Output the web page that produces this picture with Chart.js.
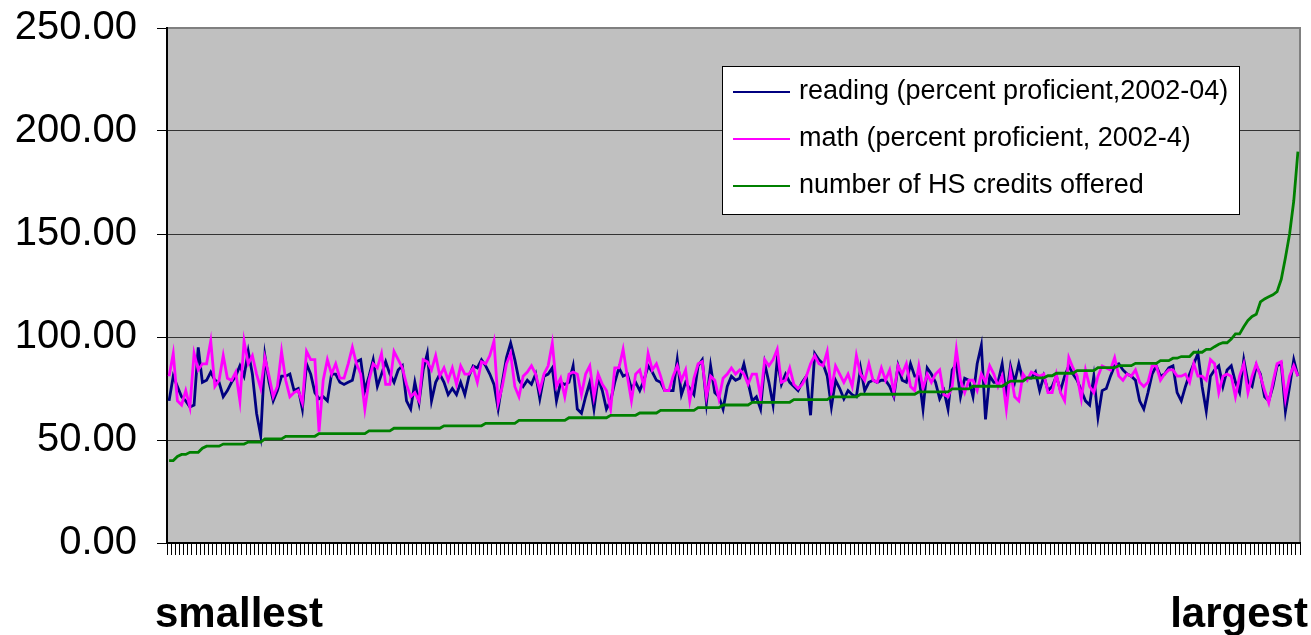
<!DOCTYPE html>
<html>
<head>
<meta charset="utf-8">
<script src="https://cdn.jsdelivr.net/npm/chart.js@4/dist/chart.umd.min.js"></script>
<style>
  body { margin: 0; background: #fff; }
  canvas { display: block; }
</style>
</head>
<body>
<canvas id="grafico" width="1311" height="635"></canvas>
<script>
// districts ranked from smallest to largest
const categories = Array.from({ length: 272 }, (_, i) => String(i + 1));

const seriesLabels = [
  "reading (percent proficient,2002-04)",
  "math (percent proficient, 2002-4)",
  "number of HS credits offered"
];

const reading = [
  69, 81, 76, 71, 69, 66, 67, 95, 78, 79,
  83, 79, 78, 71, 74, 78, 81, 86, 81, 93,
  82, 63, 52, 91, 78, 69, 74, 81, 81, 82,
  74, 75, 65, 87, 82, 73, 70, 71, 69, 82,
  82, 78, 77, 78, 79, 88, 89, 74, 81, 89,
  76, 82, 88, 82, 78, 84, 86, 69, 65, 78,
  68, 84, 92, 69, 78, 82, 78, 72, 75, 72,
  78, 72, 81, 86, 85, 89, 86, 82, 77, 65,
  78, 90, 97, 89, 79, 76, 79, 77, 82, 70,
  81, 82, 85, 69, 78, 77, 78, 86, 65, 63,
  71, 78, 65, 80, 74, 65, 69, 78, 85, 81,
  82, 75, 78, 74, 79, 86, 83, 79, 78, 74,
  74, 74, 89, 72, 78, 75, 72, 86, 89, 68,
  86, 73, 71, 65, 76, 81, 79, 80, 87, 78,
  69, 71, 65, 87, 78, 67, 89, 77, 82, 78,
  76, 74, 78, 81, 62, 92, 89, 87, 81, 66,
  79, 75, 70, 74, 72, 71, 85, 74, 78, 79,
  78, 79, 79, 76, 71, 86, 79, 78, 87, 81,
  81, 65, 85, 82, 78, 70, 74, 65, 84, 87,
  71, 80, 79, 71, 87, 96, 60, 81, 78, 78,
  87, 71, 86, 78, 87, 79, 80, 80, 83, 74,
  81, 74, 76, 81, 74, 81, 86, 82, 79, 74,
  69, 67, 81, 61, 74, 75, 81, 86, 87, 84,
  82, 81, 79, 69, 65, 73, 82, 86, 81, 82,
  85, 86, 73, 69, 76, 82, 87, 92, 76, 64,
  81, 84, 86, 76, 84, 86, 78, 73, 89, 78,
  76, 86, 82, 71, 69, 76, 86, 87, 64, 76,
  89, 81
];

const math = [
  81, 92, 69, 67, 74, 66, 92, 84, 87, 87,
  98, 76, 79, 91, 80, 79, 83, 69, 98, 87,
  91, 82, 75, 90, 81, 71, 76, 93, 79, 71,
  73, 74, 68, 93, 89, 89, 54, 79, 89, 82,
  87, 80, 80, 87, 95, 87, 82, 65, 79, 87,
  85, 92, 77, 77, 93, 89, 85, 77, 71, 73,
  69, 89, 88, 84, 91, 81, 85, 79, 85, 77,
  86, 82, 82, 85, 78, 88, 87, 91, 98, 68,
  76, 87, 92, 76, 71, 81, 83, 86, 82, 74,
  82, 86, 97, 76, 80, 71, 82, 83, 82, 72,
  82, 86, 71, 82, 77, 74, 65, 85, 85, 94,
  81, 69, 82, 84, 76, 92, 84, 87, 81, 74,
  74, 81, 86, 79, 84, 69, 80, 87, 88, 71,
  81, 79, 70, 80, 82, 85, 82, 84, 82, 77,
  82, 82, 71, 89, 86, 89, 94, 78, 79, 85,
  77, 75, 77, 81, 87, 91, 87, 86, 93, 74,
  86, 82, 78, 82, 76, 91, 82, 79, 87, 79,
  78, 85, 79, 84, 73, 86, 82, 87, 76, 74,
  86, 75, 82, 78, 82, 84, 72, 71, 76, 94,
  79, 73, 79, 79, 74, 82, 78, 86, 82, 76,
  81, 65, 83, 71, 69, 82, 79, 83, 82, 81,
  82, 73, 73, 82, 73, 69, 90, 85, 81, 70,
  84, 76, 73, 81, 86, 85, 84, 90, 81, 79,
  82, 81, 84, 78, 76, 78, 86, 86, 79, 82,
  84, 84, 81, 81, 82, 78, 87, 81, 81, 79,
  89, 87, 73, 81, 82, 81, 71, 81, 87, 73,
  81, 87, 81, 74, 68, 78, 87, 88, 70, 81,
  86, 81
];

const credits = [
  40, 40, 42, 43, 43, 44, 44, 44, 46, 47,
  47, 47, 47, 48, 48, 48, 48, 48, 48, 49,
  49, 49, 49, 50.5, 50.5, 50.5, 50.5, 50.5, 51.8, 51.8,
  51.8, 51.8, 51.8, 51.8, 51.8, 51.8, 53.1, 53.1, 53.1, 53.1,
  53.1, 53.1, 53.1, 53.1, 53.1, 53.1, 53.1, 53.1, 54.4, 54.4,
  54.4, 54.4, 54.4, 54.4, 55.7, 55.7, 55.7, 55.7, 55.7, 55.7,
  55.7, 55.7, 55.7, 55.7, 55.7, 55.7, 56.9, 56.9, 56.9, 56.9,
  56.9, 56.9, 56.9, 56.9, 56.9, 56.9, 58.1, 58.1, 58.1, 58.1,
  58.1, 58.1, 58.1, 58.1, 59.5, 59.5, 59.5, 59.5, 59.5, 59.5,
  59.5, 59.5, 59.5, 59.5, 59.5, 59.5, 60.8, 60.8, 60.8, 60.8,
  60.8, 60.8, 60.8, 60.8, 60.8, 60.8, 62, 62, 62, 62,
  62, 62, 62, 63.1, 63.1, 63.1, 63.1, 63.1, 64.4, 64.4,
  64.4, 64.4, 64.4, 64.4, 64.4, 64.4, 64.4, 65.7, 65.7, 65.7,
  65.7, 65.7, 65.7, 67, 67, 67, 67, 67, 67, 67,
  68.3, 68.3, 68.3, 68.3, 68.3, 68.3, 68.3, 68.3, 68.3, 68.3,
  69.6, 69.6, 69.6, 69.6, 69.6, 69.6, 69.6, 69.6, 69.6, 70.9,
  70.9, 70.9, 70.9, 70.9, 70.9, 70.9, 72.2, 72.2, 72.2, 72.2,
  72.2, 72.2, 72.2, 72.2, 72.2, 72.2, 72.2, 72.2, 72.2, 72.2,
  73.4, 73.4, 73.4, 73.4, 73.4, 73.4, 73.4, 73.4, 74.8, 74.8,
  74.8, 74.8, 74.8, 76.1, 76.1, 76.1, 76.1, 76.1, 76.1, 76.1,
  76.1, 77.4, 78.6, 78.6, 78.6, 78.6, 80.2, 80.2, 80.2, 80.2,
  80.2, 81.2, 81.2, 82.4, 82.4, 82.4, 82.4, 82.4, 83.7, 83.7,
  83.7, 83.7, 83.7, 85.1, 85.1, 85.1, 85.1, 85.1, 86.1, 86.1,
  86.1, 86.1, 87.2, 87.2, 87.2, 87.2, 87.2, 87.2, 88.5, 88.5,
  88.5, 89.7, 89.7, 90.5, 90.5, 90.5, 92.6, 92.6, 92.6, 94,
  94, 95.3, 96.5, 97.2, 97.2, 99, 101.5, 101.5, 105, 108,
  110, 111, 117, 118.5, 119.5, 120.5, 122, 128, 138.5, 150,
  166, 190
];

const yTicks = [0, 50, 100, 150, 200, 250];
const colores = ["#000080", "#FF00FF", "#008000"];

const fondoYLeyenda = {
  id: "fondoYLeyenda",
  beforeDraw(chart) {
    const { ctx, chartArea: a } = chart;
    ctx.save();
    ctx.fillStyle = "#C0C0C0";
    ctx.fillRect(a.left, a.top, a.right - a.left, a.bottom - a.top);
    ctx.strokeStyle = "#808080";
    ctx.lineWidth = 2;
    ctx.beginPath();
    ctx.moveTo(a.left, a.top);
    ctx.lineTo(a.right, a.top);
    ctx.lineTo(a.right, a.bottom);
    ctx.stroke();
    ctx.restore();
  },
  afterDraw(chart) {
    const { ctx } = chart;
    ctx.save();
    // legend box
    ctx.fillStyle = "#fff";
    ctx.fillRect(722, 66, 518, 149);
    ctx.strokeStyle = "#000";
    ctx.lineWidth = 1;
    ctx.strokeRect(722.5, 66.5, 517, 148);
    ctx.font = "27px 'Liberation Sans', Arial, sans-serif";
    ctx.textBaseline = "middle";
    seriesLabels.forEach((txt, i) => {
      const y = 92 + i * 47;
      ctx.strokeStyle = colores[i];
      ctx.lineWidth = 2;
      ctx.beginPath();
      ctx.moveTo(733, y);
      ctx.lineTo(790, y);
      ctx.stroke();
      ctx.fillStyle = "#000";
      ctx.fillText(txt, 799, y);
    });
    // axis end labels
    ctx.font = "bold 42px 'Liberation Sans', Arial, sans-serif";
    ctx.textBaseline = "alphabetic";
    ctx.textAlign = "center";
    ctx.fillText("smallest", 239, 627);
    ctx.fillText("largest", 1239, 627);
    ctx.restore();
  }
};

new Chart(document.getElementById("grafico"), {
  type: "line",
  data: {
    labels: categories,
    datasets: [
      { label: seriesLabels[0], data: reading, borderColor: colores[0], order: 2 },
      { label: seriesLabels[1], data: math, borderColor: colores[1], order: 1 },
      { label: seriesLabels[2], data: credits, borderColor: colores[2], order: 0 }
    ]
  },
  options: {
    responsive: false,
    animation: false,
    elements: {
      line: { borderWidth: 2.8, tension: 0, fill: false },
      point: { radius: 0 }
    },
    layout: { padding: { top: 28, right: 11, left: 0, bottom: 0 } },
    plugins: {
      legend: { display: false },
      tooltip: { enabled: false }
    },
    scales: {
      x: {
        type: "category",
        offset: true,
        grid: {
          offset: true,
          drawOnChartArea: false,
          drawTicks: true,
          tickLength: 12,
          tickColor: "#000",
          lineWidth: 1
        },
        border: { color: "#000", width: 2 },
        ticks: { display: false, autoSkip: false },
        afterFit: s => { s.height = 92; s.paddingLeft = 0; s.paddingRight = 0; }
      },
      y: {
        min: 0,
        max: 250,
        afterBuildTicks: s => { s.ticks = yTicks.map(v => ({ value: v })); },
        ticks: {
          color: "#000",
          padding: 20,
          font: { size: 40, family: "'Liberation Sans', Arial, sans-serif" },
          callback: v => Number(v).toFixed(2)
        },
        grid: {
          color: c => c.tick.value === 0 ? "rgba(0,0,0,0)" : (c.tick.value === 250 ? "#808080" : "#333"),
          tickColor: "#000",
          tickLength: 10,
          lineWidth: 1
        },
        border: { color: "#000", width: 2 },
        afterFit: s => { s.width = 167; s.paddingTop = 0; s.paddingBottom = 0; }
      }
    }
  },
  plugins: [fondoYLeyenda]
});
</script>
</body>
</html>
